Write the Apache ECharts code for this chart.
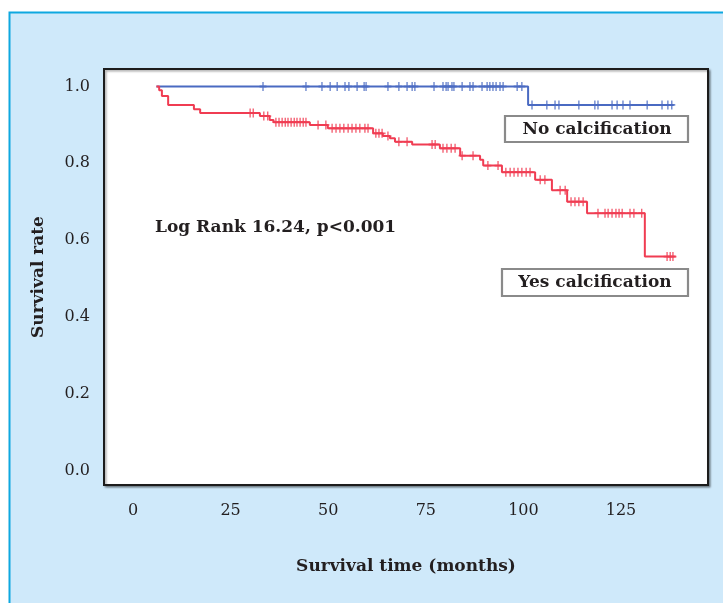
<!DOCTYPE html>
<html>
<head>
<meta charset="utf-8">
<script src="https://cdn.jsdelivr.net/npm/echarts@6/dist/echarts.min.js"></script>
<style>
html,body{margin:0;padding:0;background:#ffffff;}
#chart{width:723px;height:603px;}
</style>
</head>
<body>
<div id="chart"></div>
<script>
// Kaplan-Meier step points: [time (months), survival]
const blueSteps = [[6,1.0],[101.2,0.952],[138.5,0.952]];
const redSteps = [[6,1.0],[6.7,0.99],[7.4,0.975],[9,0.952],[15.6,0.941],[17.2,0.931],[32.5,0.923],[35,0.913],[36,0.907],[45.3,0.9],[49.9,0.891],[61.5,0.878],[64,0.871],[65.8,0.865],[67.1,0.856],[71.5,0.849],[78.6,0.839],[83.8,0.82],[88.9,0.809],[89.7,0.794],[94.5,0.777],[103,0.757],[107.3,0.73],[111.2,0.70],[116.3,0.67],[131.1,0.557],[139,0.557]];
// censored times
const blueCensored = [33.3,44.3,48.4,50.5,52.3,54.3,55.3,57.4,59.2,59.7,65.3,68.1,70.2,71.5,72.2,77.1,79.4,80.2,80.7,81.7,82.2,84.3,86.3,87.1,89.4,90.7,91.4,92.2,93,94,94.8,98.4,99.6,102.2,106,108.1,109.1,114.2,118.3,119.1,122.7,124,125.5,127.3,131.7,135.5,137,138];
const redCensored = [30.0,30.8,33.5,34.5,36.6,37.4,38.2,39.0,39.7,40.5,41.3,42.0,42.8,43.6,44.3,47.4,49.4,51,52,53,54,55.1,56.1,57.1,58.1,59.4,60.2,62.2,63,63.8,65.3,68.1,70.2,76.6,77.4,79.4,80.4,81.5,82.5,84.3,87.1,90.9,93.5,95.5,96.6,97.6,98.6,99.6,100.7,101.7,104.3,105.5,109.4,110.7,112.2,113.2,114.2,115.3,119.1,120.9,121.7,122.7,123.7,124.5,125.3,127.3,128.3,130.3,136.8,137.6,138.3];
const xTicks = [0,25,50,75,100,125];
const yTicks = [0,0.2,0.4,0.6,0.8,1.0];

function levelAt(steps, t){
  let s = steps[0][1];
  for (const p of steps){ if (p[0] <= t) s = p[1]; }
  return s;
}
const blueC = blueCensored.map(t => [t, levelAt(blueSteps, t)]);
const redC = redCensored.map(t => [t, levelAt(redSteps, t)]);

const BLUE = '#4a6ac2';
const RED = '#f03c52';
const TXT = '#231f20';
const FONT = 'DejaVu Serif';
const plus = 'path://M4,0h2v4h4v2h-4v4h-2v-4h-4v-2h4z';

const chart = echarts.init(document.getElementById('chart'));
chart.setOption({
  animation:false,
  backgroundColor:'#ffffff',
  graphic:[
    {type:'rect', z:-10, shape:{x:9.5,y:12.5,width:760,height:640}, style:{fill:'#cfe9fa', stroke:'#0ea8e0', lineWidth:2}},
    {type:'group', z:10, children:[
      {type:'rect', shape:{x:505,y:116,width:183,height:26}, style:{fill:'#ffffff', stroke:'#8a8a8a', lineWidth:2.2}},
      {type:'text', style:{x:597,y:129.5,text:'No calcification', font:'bold 17px "DejaVu Serif"', fill:TXT, align:'center', verticalAlign:'middle'}}
    ]},
    {type:'group', z:10, children:[
      {type:'rect', shape:{x:502,y:269,width:186,height:27}, style:{fill:'#ffffff', stroke:'#8a8a8a', lineWidth:2.2}},
      {type:'text', style:{x:595,y:283,text:'Yes calcification', font:'bold 17px "DejaVu Serif"', fill:TXT, align:'center', verticalAlign:'middle'}}
    ]},
    {type:'text', z:10, style:{x:155,y:228,text:'Log Rank 16.24, p<0.001', font:'bold 17px "DejaVu Serif"', fill:TXT, verticalAlign:'middle'}}
  ],
  grid:{left:104, top:69, width:604, height:416, show:true, backgroundColor:'#ffffff', borderColor:'#1c1c1c', borderWidth:2,
        shadowColor:'rgba(0,0,0,0.35)', shadowBlur:2, shadowOffsetX:1.5, shadowOffsetY:1.5},
  xAxis:{type:'value', min:-7.43, max:147.28,
    axisLine:{show:false}, axisTick:{show:false}, splitLine:{show:false},
    axisLabel:{customValues:xTicks, margin:18, fontFamily:FONT, fontSize:16, color:TXT},
    name:'Survival time (months)', nameLocation:'middle', nameGap:73,
    nameTextStyle:{fontFamily:FONT, fontWeight:'bold', fontSize:17, color:TXT}},
  yAxis:{type:'value', min:-0.0378, max:1.0456,
    axisLine:{show:false}, axisTick:{show:false}, splitLine:{show:false},
    axisLabel:{customValues:yTicks, margin:14, fontFamily:FONT, fontSize:16, color:TXT, formatter:v=>v.toFixed(1)},
    name:'Survival rate', nameLocation:'middle', nameGap:57, nameRotate:90,
    nameTextStyle:{fontFamily:FONT, fontWeight:'bold', fontSize:17, color:TXT}},
  series:[
    {type:'line', step:'end', data:blueSteps, showSymbol:false, symbol:'none', lineStyle:{color:BLUE, width:2}},
    {type:'line', step:'end', data:redSteps, showSymbol:false, symbol:'none', lineStyle:{color:RED, width:2}},
    {type:'scatter', data:blueC, symbol:plus, symbolSize:[7,9], itemStyle:{color:BLUE}},
    {type:'scatter', data:redC, symbol:plus, symbolSize:[7,9], itemStyle:{color:RED}}
  ]
});
</script>
</body>
</html>
